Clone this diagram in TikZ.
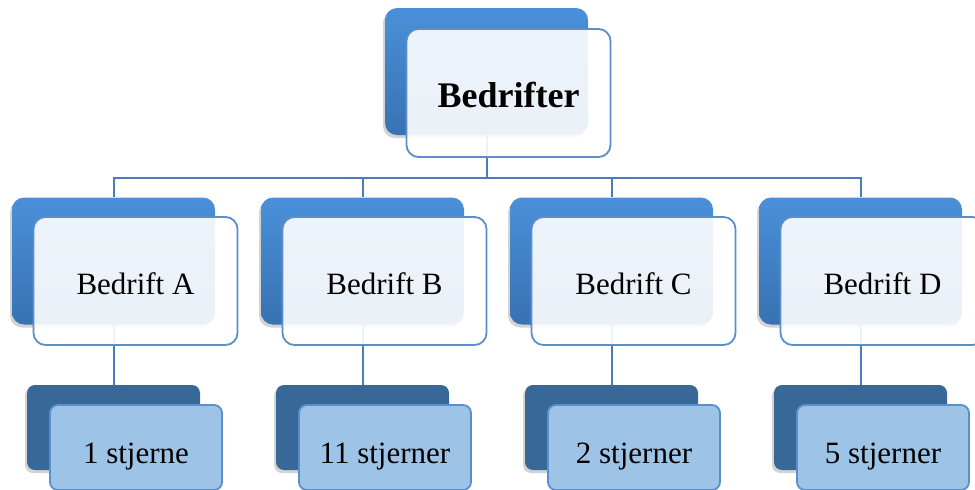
\documentclass[tikz,border=0pt]{standalone}
\usepackage{fontspec}
\setmainfont{Liberation Serif}
\usetikzlibrary{backgrounds,shadows}
\definecolor{backtop}{HTML}{4A90D9}
\definecolor{backbot}{HTML}{3872B2}
\definecolor{darkback}{HTML}{376897}
\definecolor{lightfront}{HTML}{9DC3E6}
\definecolor{edgeblue}{HTML}{5B8FCB}
\definecolor{linkblue}{HTML}{4A7EBB}
\tikzset{
  backbig/.style={rectangle, rounded corners=12pt, minimum width=203pt, minimum height=127pt, inner sep=0pt,
    top color=backtop, bottom color=backbot, draw=none,
    drop shadow={shadow xshift=-2pt, shadow yshift=-3pt, opacity=0.35}},
  frontbig/.style={rectangle, rounded corners=12pt, minimum width=204pt, minimum height=128pt, inner sep=0pt,
    fill=white, fill opacity=0.9, text opacity=1, draw=edgeblue, line width=1.8pt, font=\fontsize{31}{31}\selectfont},
  backsmall/.style={rectangle, rounded corners=8pt, minimum width=173pt, minimum height=85pt, inner sep=0pt,
    fill=darkback, draw=none,
    drop shadow={shadow xshift=-2pt, shadow yshift=-3pt, opacity=0.35}},
  frontsmall/.style={rectangle, rounded corners=8pt, minimum width=172pt, minimum height=85pt, inner sep=0pt,
    fill=lightfront, draw=edgeblue, line width=1.8pt, font=\fontsize{31}{31}\selectfont},
  link/.style={draw=linkblue, line width=2pt}
}
\begin{document}
\begin{tikzpicture}[x=1pt,y=-1pt]
\useasboundingbox (0,0) rectangle (975,490);
% top
\node[backbig] (topback) at (486.5,71.5) {};
\node[frontbig, font=\bfseries\fontsize{36}{36}\selectfont] (top) at (508.5,93) {\raisebox{-14pt}[0pt][0pt]{Bedrifter}};
% level 2 and 3
\foreach \n/\lab/\cnt [count=\i from 0] in {A/Bedrift A/1 stjerne, B/Bedrift B/11 stjerner, C/Bedrift C/2 stjerner, D/Bedrift D/5 stjerner}{
  \pgfmathsetmacro{\dx}{249*\i}
  \node[backbig] (back\n) at (113.5+\dx,261) {};
  \node[frontbig] (front\n) at (135.5+\dx,281) {\raisebox{-13pt}[0pt][0pt]{\lab}};
  \node[backsmall] (sback\n) at (113.5+\dx,427.5) {};
  \node[frontsmall] (sfront\n) at (136+\dx,447.5) {\raisebox{-15.5pt}[0pt][0pt]{\cnt}};
}
\coordinate (bus) at (486.5,178);
\begin{scope}[on background layer]
  \draw[link] (topback.south) -- (bus);
  \foreach \n in {A,B,C,D}{
    \draw[link] (bus) -| (back\n.north);
    \draw[link] (back\n.south) -- (sback\n.north);
  }
\end{scope}
\end{tikzpicture}
\end{document}
